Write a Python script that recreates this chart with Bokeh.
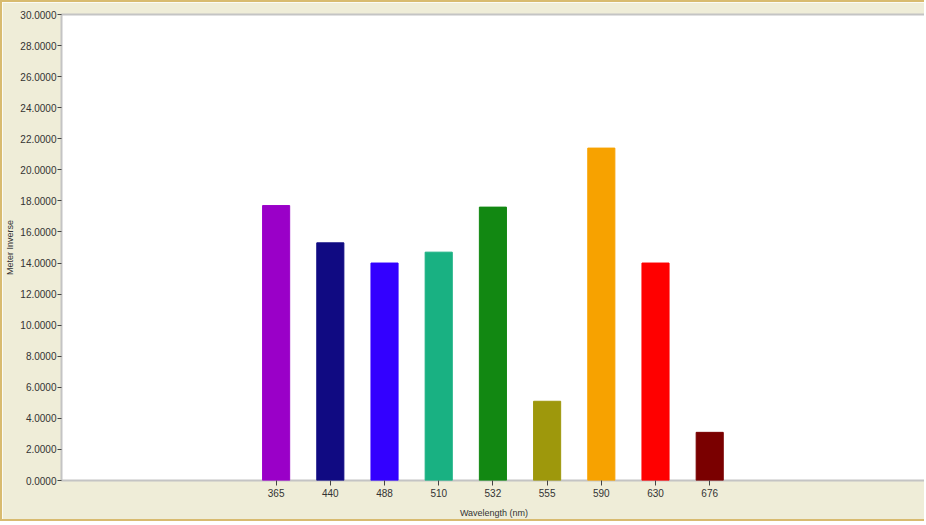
from bokeh.plotting import figure
from bokeh.models import Range1d, FixedTicker, ColumnDataSource, NumeralTickFormatter
from bokeh.embed import file_html
from bokeh.resources import INLINE

wavelengths = ["365", "440", "488", "510", "532", "555", "590", "630", "676"]
values = [17.7, 15.3, 14.0, 14.7, 17.6, 5.1, 21.4, 14.0, 3.1]
colors = ["#9A00C8", "#100A82", "#3300FF", "#19B182", "#128812",
          "#9E980C", "#F7A200", "#FF0000", "#7A0000"]
y_ticks = [0, 2, 4, 6, 8, 10, 12, 14, 16, 18, 20, 22, 24, 26, 28, 30]

positions = list(range(len(wavelengths)))
src = ColumnDataSource(dict(x=positions, top=values, color=colors))

p = figure(width=924, height=521, output_backend="svg", toolbar_location=None,
           x_range=Range1d(-3.96, 12.0), y_range=Range1d(0, 30),
           min_border_left=56, min_border_top=12, min_border_right=0, min_border_bottom=43,
           styles={"border-top": "2px solid #D8BB70", "border-left": "2px solid #D8BB70",
                   "border-bottom": "2px solid #D8BB70"})

p.vbar(x="x", top="top", width=0.5, fill_color="color", line_color="color", source=src)

p.background_fill_color = "#FFFFFF"
p.border_fill_color = "#EFEDD8"
p.outline_line_color = "#C4C4C4"
p.outline_line_width = 2
p.xgrid.visible = False
p.ygrid.visible = False

font = "Liberation Sans"
ya = p.yaxis[0]
ya.ticker = FixedTicker(ticks=y_ticks)
ya.formatter = NumeralTickFormatter(format="0.0000")
ya.axis_label = "Meter Inverse"
ya.axis_label_text_font = font
ya.axis_label_text_font_size = "9px"
ya.axis_label_text_font_style = "normal"
ya.axis_label_text_color = "#333333"
ya.axis_label_standoff = 2
ya.major_label_text_font = font
ya.major_label_text_font_size = "10px"
ya.major_label_text_color = "#333333"
ya.major_label_standoff = 1
ya.major_tick_out = 4
ya.major_tick_in = 0
ya.major_tick_line_color = "#444444"
ya.minor_tick_line_color = None
ya.axis_line_color = None

xa = p.xaxis[0]
xa.ticker = FixedTicker(ticks=positions)
xa.major_label_overrides = {i: w for i, w in enumerate(wavelengths)}
xa.axis_label = "Wavelength (nm)"
xa.axis_label_text_font = font
xa.axis_label_text_font_size = "9px"
xa.axis_label_text_font_style = "normal"
xa.axis_label_text_color = "#333333"
xa.axis_label_standoff = 8
xa.major_label_text_font = font
xa.major_label_text_font_size = "10px"
xa.major_label_text_color = "#333333"
xa.major_label_standoff = 3
xa.major_tick_out = 5
xa.major_tick_in = 0
xa.major_tick_line_color = "#444444"
xa.minor_tick_line_color = None
xa.axis_line_color = None

open("out.html", "w").write(file_html(p, INLINE))
